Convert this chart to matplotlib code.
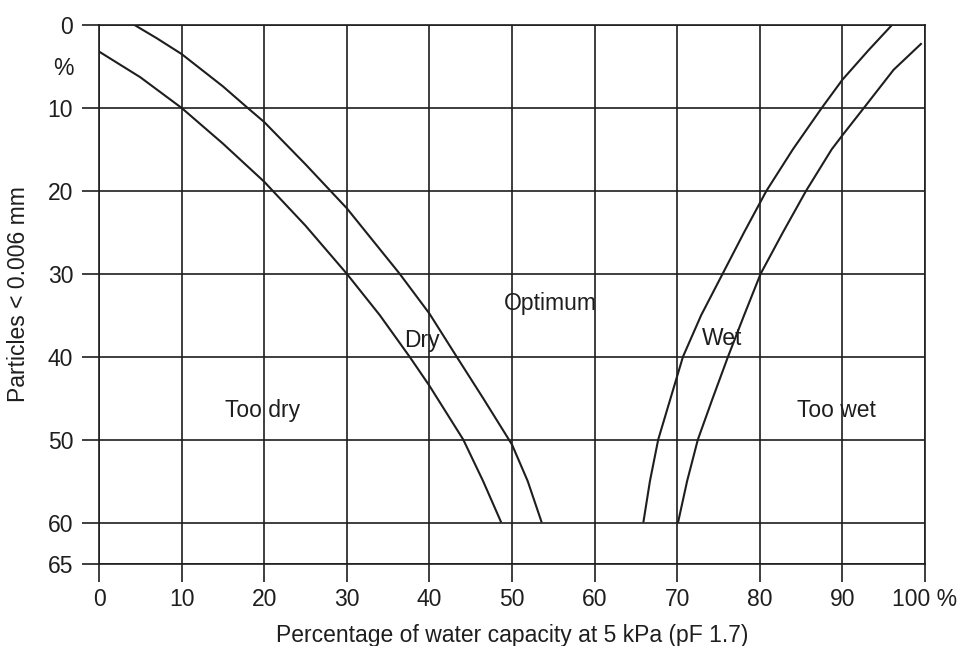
import matplotlib
matplotlib.use("Agg")
import matplotlib.pyplot as plt

plt.rcParams["font.family"] = ["Liberation Sans", "DejaVu Sans"]

# Grenzkurven (x = % Wasserkapazität, y = Partikel < 0.006 mm)
too_dry_x = [0, 5, 10, 15, 20, 25, 30, 34, 37.6, 40, 44.1, 46.5, 48.7]
too_dry_y = [3.2, 6.3, 10, 14.3, 18.9, 24.2, 30, 35.0, 40, 43.5, 50, 55, 60]

dry_x = [4.3, 7, 10, 15, 18, 20, 25, 30, 36.4, 40, 43.3, 46.5, 48.5, 50, 51.9, 53.6]
dry_y = [0, 1.6, 3.5, 7.4, 10, 11.7, 16.8, 22.1, 30, 34.8, 40, 45, 48.2, 50.6, 55, 60]

wet_x = [65.9, 66.7, 67.7, 69.2, 70.7, 72.9, 75.5, 78.1, 80.8, 84.0, 87.5, 90, 93.2, 96.0]
wet_y = [60, 55, 50, 45, 40, 35, 30, 25, 20, 15, 10, 6.6, 3, 0]

too_wet_x = [70.1, 71.2, 72.5, 74.3, 76.15, 78.1, 80.1, 82.8, 85.6, 88.7, 90, 92.6, 96.2, 99.6]
too_wet_y = [60, 55, 50, 45, 40, 35, 30, 25, 20, 15, 13.3, 10, 5.4, 2.2]

x_ticks = [0, 10, 20, 30, 40, 50, 60, 70, 80, 90, 100]
x_tick_labels = ["0", "10", "20", "30", "40", "50", "60", "70", "80", "90", "100 %"]
y_ticks = [0, 10, 20, 30, 40, 50, 60, 65]
y_tick_labels = ["0", "10", "20", "30", "40", "50", "60", "65"]

region_labels = ["Too dry", "Dry", "Optimum", "Wet", "Too wet"]
region_x = [19.8, 39.1, 54.6, 75.4, 89.3]
region_y = [46.5, 38.0, 33.6, 37.8, 46.5]

ink = "#1e1e1e"
fs = 16.5

fig = plt.figure(figsize=(9.62, 6.46), dpi=100)
ax = fig.add_axes([99 / 962, 1 - 564 / 646, 826 / 962, 539 / 646])

for xs, ys in [(too_dry_x, too_dry_y), (dry_x, dry_y), (wet_x, wet_y), (too_wet_x, too_wet_y)]:
    ax.plot(xs, ys, color=ink, lw=1.5, solid_capstyle="butt", solid_joinstyle="round", zorder=3)

for lab, tx, ty in zip(region_labels, region_x, region_y):
    ax.text(tx, ty, lab, ha="center", va="center", fontsize=fs, color=ink, zorder=4)

ax.set_xlim(0, 100)
ax.set_ylim(65, 0)
ax.set_xticks(x_ticks, x_tick_labels)
ax.set_yticks(y_ticks, y_tick_labels)
ax.set_yticks([5], ["%"], minor=True)
ax.set_xticks([], minor=True)

ax.grid(True, which="major", color=ink, lw=1.2)
ax.set_axisbelow(True)
for s in ax.spines.values():
    s.set_color(ink)
    s.set_linewidth(1.2)

ax.tick_params(axis="both", which="major", length=12.6, width=1.2, color=ink,
               labelsize=fs, labelcolor=ink)
ax.tick_params(axis="y", which="major", pad=6.0)
ax.tick_params(axis="x", which="major", pad=5.0)
ax.tick_params(axis="y", which="minor", length=0, pad=18.6, labelsize=fs, labelcolor=ink)

ax.set_xlabel("Percentage of water capacity at 5 kPa (pF 1.7)", fontsize=fs, color=ink, labelpad=9)
ax.set_ylabel("Particles < 0.006 mm", fontsize=fs, color=ink, labelpad=13)

fig.savefig("out.png", dpi=100, facecolor="white")
